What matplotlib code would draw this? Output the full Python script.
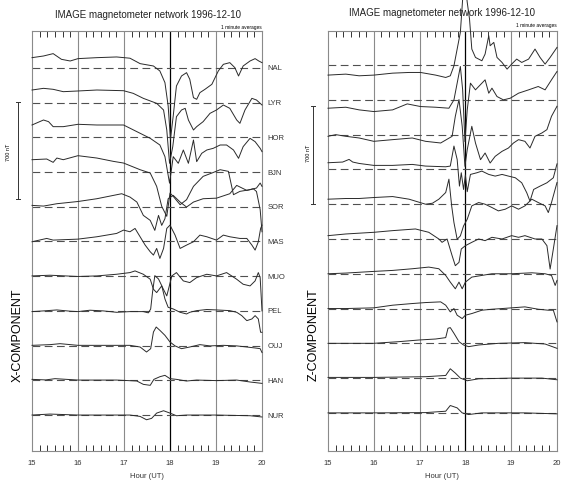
import matplotlib
matplotlib.use("Agg")
import matplotlib.pyplot as plt
import numpy as np

plt.rcParams['font.family'] = ['Liberation Sans', 'DejaVu Sans']

STATIONS = ["NAL", "LYR", "HOR", "BJN", "SOR", "MAS", "MUO", "PEL", "OUJ", "HAN", "NUR"]
HOURS = [15, 16, 17, 18, 19, 20]
OFFSET = 250      # nT between station baselines
SCALE_NT = 700    # length of the scale bar

# X component: (hour UT, nT relative to the dashed baseline)
x_nal = [(15.0, 74), (15.25, 86), (15.46, 103), (15.64, 62), (15.83, 50), (16.0, 67), (16.41, 74),
         (16.84, 79), (17.13, 70), (17.35, 31), (17.64, 14), (17.78, -22), (17.89, -106), (17.96, -274),
         (18.01, -514), (18.07, -346), (18.14, -130), (18.25, -58), (18.36, -34), (18.43, -82),
         (18.51, -214), (18.58, -226), (18.65, -178), (18.76, -154), (18.91, -118), (19.05, -22),
         (19.16, 26), (19.30, 38), (19.41, 2), (19.49, -58), (19.59, 14), (19.74, 50), (19.85, 67),
         (19.93, 50), (20.0, 38)]
x_lyr = [(15.0, 91), (15.25, 103), (15.46, 96), (15.68, 79), (16.0, 84), (16.41, 91), (16.99, 86),
         (17.2, 67), (17.42, 31), (17.71, -5), (17.86, -53), (17.93, -197), (17.99, -437), (18.06, -317),
         (18.14, -101), (18.25, -53), (18.33, -41), (18.40, -125), (18.51, -197), (18.58, -173),
         (18.72, -137), (18.87, -77), (19.01, -53), (19.16, -17), (19.30, -41), (19.45, -125),
         (19.52, -149), (19.63, -53), (19.78, 31), (19.88, 19), (20.0, -17)]
x_hor = [(15.0, 89), (15.25, 125), (15.36, 113), (15.46, 77), (15.68, 77), (16.0, 94), (16.41, 89),
         (16.99, 89), (17.28, 41), (17.57, -7), (17.78, -55), (17.89, -139), (17.99, -330), (18.07, -139),
         (18.18, -187), (18.29, -91), (18.40, -187), (18.51, -19), (18.58, -175), (18.69, -115),
         (18.80, -91), (18.94, -79), (19.09, -55), (19.23, -55), (19.38, -91), (19.49, -151),
         (19.59, -67), (19.74, -7), (19.85, -31), (19.96, -79), (20.0, -103)]
x_bjn = [(15.0, 89), (15.32, 94), (15.46, 70), (15.54, 101), (15.68, 89), (16.0, 118), (16.41, 101),
         (16.77, 77), (16.99, 65), (17.35, 17), (17.57, -7), (17.71, -103), (17.82, -247), (17.93, -319),
         (18.0, -151), (18.07, -175), (18.22, -235), (18.36, -199), (18.51, -103), (18.72, -31),
         (18.91, -7), (19.09, 17), (19.27, 5), (19.38, -163), (19.52, -139), (19.74, -127),
         (19.88, -115), (19.96, -79), (20.0, -103)]
x_sor = [(15.0, 10), (15.25, 5), (15.54, 22), (16.0, 38), (16.41, 58), (16.77, 82), (16.95, 94),
         (17.13, 70), (17.28, 34), (17.42, -62), (17.57, -98), (17.67, -170), (17.75, -62),
         (17.82, -134), (17.89, -86), (17.96, 58), (18.07, 82), (18.22, 34), (18.36, -2), (18.51, 34),
         (18.72, 58), (19.01, 62), (19.30, 94), (19.45, 154), (19.67, 118), (19.81, 130), (19.88, 110),
         (19.96, -20), (20.0, -180)]
x_mas = [(15.0, -2), (15.32, 22), (15.46, 10), (16.0, 17), (16.41, 34), (16.84, 58), (16.99, 82),
         (17.13, 70), (17.24, 94), (17.35, 34), (17.46, -26), (17.57, -74), (17.64, -98), (17.71, -50),
         (17.78, -122), (17.86, -50), (17.93, 94), (18.0, 118), (18.11, 46), (18.22, -50), (18.36, -26),
         (18.51, -2), (18.65, 46), (18.80, 34), (19.01, 10), (19.16, 46), (19.30, 34), (19.52, 22),
         (19.67, 22), (19.78, -26), (19.85, -62), (19.92, -2), (19.97, 94), (20.0, 118)]
x_muo = [(15.0, 2), (15.39, 7), (16.0, -2), (16.41, 2), (16.84, 14), (17.13, 26), (17.24, 38),
         (17.42, 14), (17.57, -22), (17.64, -94), (17.71, -118), (17.82, -70), (17.93, -142), (18.04, 2),
         (18.14, 26), (18.29, -34), (18.43, -46), (18.58, -10), (18.80, 14), (19.01, 2), (19.23, 26),
         (19.45, -22), (19.59, -58), (19.74, -70), (19.85, -34), (19.92, 26), (19.96, -10), (20.0, -250)]
x_pel = [(15.0, -5), (15.25, 0), (15.54, 7), (15.83, -2), (16.0, -5), (16.26, 5), (16.55, 0),
         (16.84, -10), (17.13, -5), (17.42, -5), (17.53, -14), (17.58, 14), (17.62, 134), (17.67, 254),
         (17.75, 230), (17.82, 182), (17.89, 86), (17.96, 26), (18.07, 14), (18.22, -10), (18.36, -22),
         (18.43, -10), (18.58, 2), (18.80, 10), (19.01, 7), (19.30, 2), (19.45, -10), (19.56, -34),
         (19.67, -70), (19.78, -58), (19.85, -34), (19.92, -58), (19.97, -154), (20.0, -154)]
x_ouj = [(15.0, 2), (15.39, 7), (15.61, 14), (16.0, 2), (16.41, 2), (16.84, 2), (17.13, 2),
         (17.35, -10), (17.49, -46), (17.58, -22), (17.64, 98), (17.70, 134), (17.78, 110), (17.89, 74),
         (18.0, 26), (18.11, -2), (18.25, -22), (18.43, -10), (18.65, 7), (18.87, -2), (19.16, 2),
         (19.45, -2), (19.67, -10), (19.85, -17), (19.96, -22), (20.0, -50)]
x_han = [(15.0, 7), (15.3, 3), (15.5, 12), (16.0, 2), (16.84, 2), (17.28, -5), (17.42, -29),
         (17.57, -36), (17.65, 7), (17.78, 26), (17.89, 36), (18.0, 12), (18.14, 7), (18.36, -5),
         (18.58, 2), (19.01, -2), (19.45, 2), (19.74, -12), (20.0, -22)]
x_nur = [(15.0, 0), (15.39, 7), (16.0, 0), (17.13, 0), (17.35, -10), (17.49, -34), (17.60, -24),
         (17.71, 14), (17.86, 31), (18.0, 14), (18.14, -5), (18.36, 0), (19.01, 0), (19.74, -5),
         (20.0, -14)]

# Z component
z_nal = [(15.0, -72), (15.39, -65), (15.68, -77), (16.0, -72), (16.41, -58), (16.77, -53), (17.02, -53),
         (17.35, -72), (17.57, -89), (17.67, -77), (17.75, -5), (17.82, 115), (17.89, 235), (17.94, 475),
         (17.99, 600), (18.04, 451), (18.09, 331), (18.14, 115), (18.22, 55), (18.36, 31), (18.43, 79),
         (18.51, 211), (18.54, 139), (18.62, 163), (18.69, 55), (18.80, 19), (18.91, -29), (19.01, 7),
         (19.12, 43), (19.23, 19), (19.38, 43), (19.52, 115), (19.63, 55), (19.74, 7), (19.85, 55),
         (20.0, 127)]
z_lyr = [(15.0, -60), (15.39, -53), (15.68, -72), (16.0, -84), (16.41, -72), (16.73, -29), (17.02, -48),
         (17.35, -53), (17.64, -60), (17.75, 0), (17.82, 120), (17.89, 240), (17.94, 72), (17.99, -300),
         (18.04, -72), (18.11, 120), (18.22, 72), (18.36, 120), (18.43, 144), (18.51, 48), (18.58, 84),
         (18.69, 24), (18.83, 0), (18.98, 12), (19.16, 48), (19.38, 72), (19.59, 96), (19.74, 72),
         (19.88, 144), (20.0, 204)]
z_hor = [(15.0, -12), (15.17, 0), (15.39, -12), (15.68, -24), (16.0, -48), (16.41, -36), (16.84, -24),
         (17.13, -48), (17.46, -60), (17.71, -12), (17.78, 132), (17.86, 252), (17.93, 60), (17.99, -228),
         (18.04, -108), (18.14, 60), (18.22, -60), (18.33, -180), (18.43, -132), (18.54, -204),
         (18.65, -156), (18.80, -120), (18.94, -96), (19.05, -60), (19.16, -36), (19.30, -48),
         (19.41, -96), (19.52, -12), (19.67, 12), (19.78, 36), (19.88, 132), (20.0, 204)]
z_bjn = [(15.0, 48), (15.32, 53), (15.46, 72), (15.54, 53), (15.68, 43), (16.0, 29), (16.41, 29),
         (16.84, 36), (17.13, 24), (17.57, 19), (17.67, 24), (17.75, 168), (17.82, 72), (17.87, -120),
         (17.91, -24), (17.96, -144), (18.0, -40), (18.04, -160), (18.11, -36), (18.25, -24),
         (18.36, -12), (18.51, -36), (18.65, -48), (18.80, -36), (18.94, -48), (19.09, -60),
         (19.23, -96), (19.34, -168), (19.41, -228), (19.49, -144), (19.63, -120), (19.78, -96),
         (19.92, -60), (20.0, 40)]
z_sor = [(15.0, 36), (15.39, 41), (15.68, 41), (16.0, 48), (16.41, 55), (16.77, 36), (17.13, 0),
         (17.28, 7), (17.42, 36), (17.57, 84), (17.64, 180), (17.70, -12), (17.75, -132), (17.82, -252),
         (17.89, -228), (17.96, -156), (18.04, -108), (18.14, -12), (18.29, 12), (18.43, 0),
         (18.58, -24), (18.72, -48), (18.87, -36), (19.01, -12), (19.16, -36), (19.30, -12),
         (19.45, 36), (19.59, 12), (19.74, -12), (19.81, -60), (19.88, 12), (19.96, 108), (20.0, 156)]
z_mas = [(15.0, 24), (15.39, 36), (16.0, 48), (16.41, 60), (16.91, 72), (17.20, 48), (17.42, 0),
         (17.49, -24), (17.60, 0), (17.71, -120), (17.78, -192), (17.86, -168), (17.91, -72),
         (18.0, -48), (18.14, -24), (18.29, 0), (18.43, -12), (18.58, 12), (18.80, 0), (19.01, 24),
         (19.16, 12), (19.30, 24), (19.52, 0), (19.67, 0), (19.78, -48), (19.85, -216), (19.92, -72),
         (20.0, 96)]
z_muo = [(15.0, 0), (15.39, 5), (16.0, 17), (16.41, 24), (16.84, 36), (17.20, 48), (17.42, 36),
         (17.57, -12), (17.67, -60), (17.78, -108), (17.86, -60), (17.93, -108), (18.0, -60),
         (18.14, -24), (18.36, -12), (18.58, 0), (19.01, 0), (19.45, 7), (19.74, 0), (19.88, -12),
         (19.96, -84), (20.0, -48)]
z_pel = [(15.0, 0), (15.39, 0), (16.0, 5), (16.41, 24), (16.84, 36), (17.13, 43), (17.46, 48),
         (17.57, 24), (17.67, -24), (17.75, 0), (17.82, -48), (17.93, -72), (18.0, -48), (18.14, -36),
         (18.36, -12), (18.58, -5), (18.80, 0), (19.01, 5), (19.30, 12), (19.59, -5), (19.81, -12),
         (19.92, -12), (20.0, -96)]
z_ouj = [(15.0, 0), (16.0, 0), (16.55, 12), (16.99, 24), (17.35, 31), (17.57, 41), (17.62, 108),
         (17.67, 113), (17.75, 72), (17.86, 12), (17.96, -12), (18.07, -24), (18.29, -12), (18.72, 0),
         (19.30, 5), (19.74, -5), (20.0, -36)]
z_han = [(15.0, 5), (16.0, 5), (17.13, 10), (17.57, 19), (17.67, 67), (17.78, 36), (17.89, 0),
         (18.04, -19), (18.29, -5), (19.01, 0), (19.67, 0), (20.0, -12)]
z_nur = [(15.0, 0), (16.0, 0), (17.13, 2), (17.57, 12), (17.67, 53), (17.82, 36), (17.93, 0),
         (18.07, -12), (18.36, 0), (19.30, 0), (20.0, -7)]

x_traces = [x_nal, x_lyr, x_hor, x_bjn, x_sor, x_mas, x_muo, x_pel, x_ouj, x_han, x_nur]
z_traces = [z_nal, z_lyr, z_hor, z_bjn, z_sor, z_mas, z_muo, z_pel, z_ouj, z_han, z_nur]

W, H = 562, 485
fig = plt.figure(figsize=(W / 100, H / 100), dpi=100)
ax_x = fig.add_axes([32 / W, 1 - 452 / H, 230 / W, 420 / H])
ax_z = fig.add_axes([328 / W, 1 - 452 / H, 229 / W, 420 / H])


def draw_panel(ax, traces, ylim):
    ax.set_xlim(15, 20)
    ax.set_ylim(*ylim)
    for h in HOURS[1:-1]:
        ax.axvline(h, color='black' if h == 18 else '#8a8a8a', lw=0.9 if h == 18 else 0.8, zorder=1)
    for i, tr in enumerate(traces):
        base = -i * OFFSET
        ax.axhline(base, color='#505050', lw=0.8, ls=(0, (7, 4)), zorder=2)
        arr = np.array(tr, dtype=float)
        ax.plot(arr[:, 0], arr[:, 1] + base, color='#2a2a2a', lw=0.7, clip_on=False, zorder=3)
    ax.set_xticks(HOURS)
    ax.set_xticks([h + m / 60 for h in HOURS[:-1] for m in range(10, 60, 10)], minor=True)
    ax.set_yticks([])
    ax.tick_params(which='major', length=0, labelsize=5.5, pad=6, labelcolor='#333333')
    ax.tick_params(which='minor', direction='in', length=4, width=0.7, color='#333333',
                   top=True, bottom=True)
    for s in ax.spines.values():
        s.set_color('#8a8a8a')
        s.set_linewidth(0.8)


draw_panel(ax_x, x_traces, (-2759, 266))
draw_panel(ax_z, z_traces, (-2774, 245))

for i, name in enumerate(STATIONS):
    ax_x.text(1.025, -i * OFFSET, name, transform=ax_x.get_yaxis_transform(),
              va='center', ha='left', fontsize=5.5, color='#333333')


def scale_bar(ax, xpos, top):
    tr = ax.get_yaxis_transform()
    ax.plot([xpos, xpos], [top, top - SCALE_NT], transform=tr, clip_on=False, color='#333333', lw=0.7)
    for y in (top, top - SCALE_NT):
        ax.plot([xpos - 0.008, xpos + 0.008], [y, y], transform=tr, clip_on=False,
                color='#333333', lw=0.7)


scale_bar(ax_x, -0.061, -245)
scale_bar(ax_z, -0.066, -295)

title = "IMAGE magnetometer network 1996-12-10"
fig.text(148 / W, 1 - 15 / H, title, ha='center', va='center', fontsize=7, color='#222222')
fig.text(442 / W, 1 - 13 / H, title, ha='center', va='center', fontsize=7, color='#222222')
fig.text(262 / W, 1 - 27 / H, "1 minute averages", ha='right', va='center', fontsize=3.5)
fig.text(557 / W, 1 - 25 / H, "1 minute averages", ha='right', va='center', fontsize=3.5)
fig.text(147 / W, 1 - 477 / H, "Hour (UT)", ha='center', va='center', fontsize=5.5, color='#333333')
fig.text(442 / W, 1 - 477 / H, "Hour (UT)", ha='center', va='center', fontsize=5.5, color='#333333')
fig.text(18 / W, 1 - 335 / H, "X-COMPONENT", rotation=90, ha='center', va='center', fontsize=9)
fig.text(314 / W, 1 - 335 / H, "Z-COMPONENT", rotation=90, ha='center', va='center', fontsize=9)
fig.text(9 / W, 1 - 152 / H, "700 nT", rotation=90, ha='center', va='center', fontsize=4)
fig.text(309 / W, 1 - 153 / H, "700 nT", rotation=90, ha='center', va='center', fontsize=4)

fig.savefig("out.png", dpi=100)
